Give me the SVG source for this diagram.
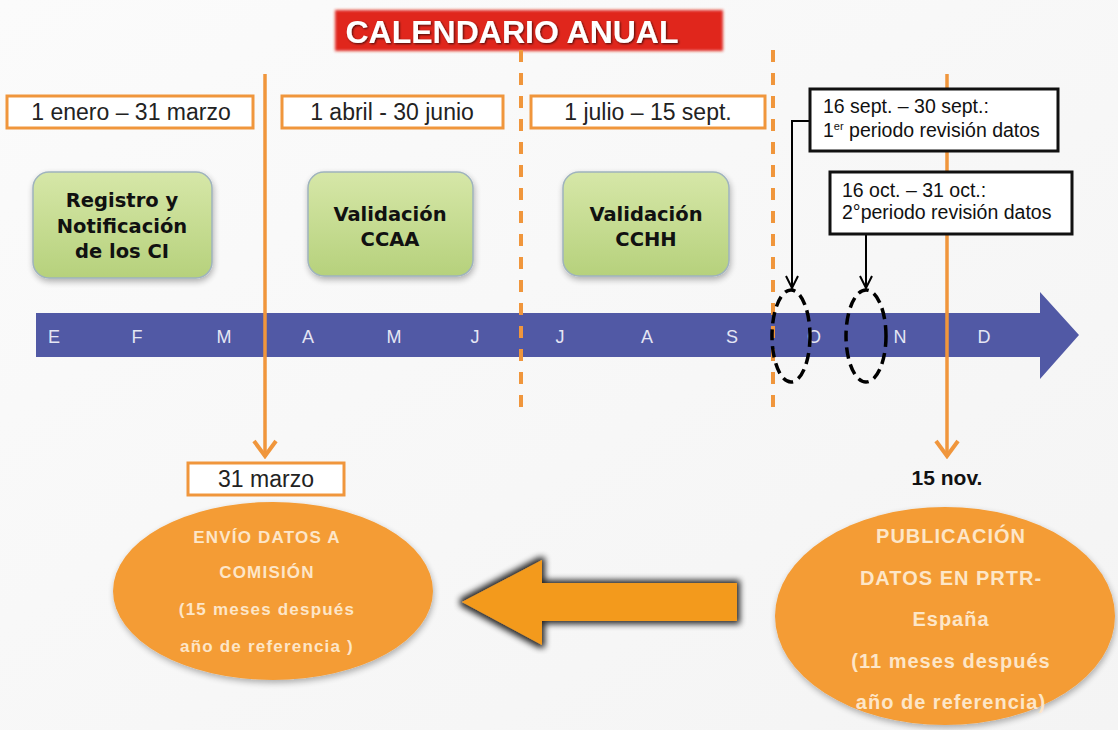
<svg xmlns="http://www.w3.org/2000/svg" width="1118" height="730" viewBox="0 0 1118 730">
<defs>
<style>
.lbl{fill:#fff;stroke:#f0963c;stroke-width:3}
.lt{font-family:"Liberation Sans",Arial,sans-serif;font-size:23px;fill:#222;text-anchor:middle}
.gb{stroke:#9fb3bd;stroke-width:1.5;filter:url(#sh)}
.gt{font-family:"DejaVu Sans",Verdana,sans-serif;font-weight:bold;font-size:19.5px;fill:#111;text-anchor:middle}
.bx{fill:#fff;stroke:#111;stroke-width:3}
.bt{font-family:"Liberation Sans",Arial,sans-serif;font-size:19.5px;fill:#111}
.mo{font-family:"Liberation Sans",Arial,sans-serif;font-size:18px;fill:#e4e6f4;text-anchor:middle}
.ol{stroke:#f0963c;stroke-width:3.5;fill:none}
.od{stroke:#f0963c;stroke-width:4;fill:none;stroke-dasharray:12 11}
.dash{fill:none;stroke:#000;stroke-width:3.5;stroke-dasharray:11 6}
.et{font-family:"Liberation Sans",Arial,sans-serif;font-weight:bold;fill:#fde6c8;text-anchor:middle}
</style>
<linearGradient id="gg" x1="0" y1="0" x2="0" y2="1">
<stop offset="0" stop-color="#d6e7a8"/>
<stop offset="1" stop-color="#b6d17c"/>
</linearGradient>
<linearGradient id="bg" x1="0" y1="0" x2="1" y2="1">
<stop offset="0" stop-color="#fbfbfb"/>
<stop offset="1" stop-color="#f4f4f4"/>
</linearGradient>
<filter id="sh" x="-20%" y="-20%" width="140%" height="140%">
<feGaussianBlur in="SourceAlpha" stdDeviation="3"/>
<feOffset dx="1" dy="3" result="b"/>
<feComponentTransfer><feFuncA type="linear" slope="0.3"/></feComponentTransfer>
<feMerge><feMergeNode/><feMergeNode in="SourceGraphic"/></feMerge>
</filter>
<filter id="glow" x="-20%" y="-30%" width="140%" height="160%">
<feMorphology in="SourceAlpha" operator="dilate" radius="3"/>
<feGaussianBlur stdDeviation="3"/>
<feComponentTransfer><feFuncA type="linear" slope="0.85"/></feComponentTransfer>
<feMerge><feMergeNode/><feMergeNode in="SourceGraphic"/></feMerge>
</filter>
<filter id="soft" x="-5%" y="-20%" width="110%" height="140%">
<feGaussianBlur stdDeviation="1.5"/>
</filter>
<filter id="tsh" x="-5%" y="-20%" width="110%" height="140%">
<feGaussianBlur in="SourceAlpha" stdDeviation="1.2"/>
<feOffset dx="1" dy="1"/>
<feComponentTransfer><feFuncA type="linear" slope="0.7"/></feComponentTransfer>
<feMerge><feMergeNode/><feMergeNode in="SourceGraphic"/></feMerge>
</filter>
<marker id="ah" viewBox="0 0 14 14" refX="13" refY="7" markerWidth="14" markerHeight="14" markerUnits="userSpaceOnUse" orient="auto">
<path d="M1,1 L13,7 L1,13" fill="none" stroke="#000" stroke-width="2"/>
</marker>
<marker id="oh" viewBox="0 0 20 26" refX="18" refY="13" markerWidth="20" markerHeight="26" markerUnits="userSpaceOnUse" orient="auto">
<path d="M2,2 L17,13 L2,24" fill="none" stroke="#f0963c" stroke-width="4"/>
</marker>
</defs>
<rect width="1118" height="730" fill="url(#bg)"/>

<g id="title">
<rect x="335" y="10" width="388" height="41" fill="#e0271d" filter="url(#soft)"/>
<text x="512" y="43" font-family="Liberation Sans,Arial,sans-serif" font-weight="bold" font-size="32" fill="#fff" text-anchor="middle" filter="url(#tsh)">CALENDARIO ANUAL</text>
</g>

<g id="period1">
<rect class="lbl" x="7" y="96" width="246" height="32"/>
<text class="lt" x="131" y="120">1 enero – 31 marzo</text>
</g>
<g id="period2">
<rect class="lbl" x="282" y="96" width="221" height="32"/>
<text class="lt" x="392" y="120">1 abril - 30 junio</text>
</g>
<g id="period3">
<rect class="lbl" x="531" y="96" width="234" height="32"/>
<text class="lt" x="648" y="120">1 julio – 15 sept.</text>
</g>

<g id="registro">
<rect class="gb" x="33" y="172" width="179" height="106" rx="16" fill="url(#gg)"/>
<text class="gt" x="122" y="207">Registro y</text>
<text class="gt" x="122" y="233">Notificación</text>
<text class="gt" x="122" y="258">de los CI</text>
</g>
<g id="validacion-ccaa">
<rect class="gb" x="308" y="172" width="165" height="104" rx="16" fill="url(#gg)"/>
<text class="gt" x="390" y="221">Validación</text>
<text class="gt" x="390" y="246">CCAA</text>
</g>
<g id="validacion-cchh">
<rect class="gb" x="563" y="172" width="166" height="104" rx="16" fill="url(#gg)"/>
<text class="gt" x="646" y="221">Validación</text>
<text class="gt" x="646" y="246">CCHH</text>
</g>

<g id="timeline">
<polygon points="36,313 1040,313 1040,292 1079,335 1040,379 1040,357 36,357" fill="#5159a5"/>
<text class="mo" x="54" y="343">E</text>
<text class="mo" x="137" y="343">F</text>
<text class="mo" x="224" y="343">M</text>
<text class="mo" x="308" y="343">A</text>
<text class="mo" x="394" y="343">M</text>
<text class="mo" x="475" y="343">J</text>
<text class="mo" x="560" y="343">J</text>
<text class="mo" x="647" y="343">A</text>
<text class="mo" x="732" y="343">S</text>
<text class="mo" x="814" y="343">O</text>
<text class="mo" x="900" y="343">N</text>
<text class="mo" x="984" y="343">D</text>
</g>

<g id="connectors">
<line class="ol" x1="265" y1="74" x2="265" y2="457" marker-end="url(#oh)"/>
<line class="ol" x1="947" y1="74" x2="947" y2="457" marker-end="url(#oh)"/>
<line class="od" x1="521" y1="50" x2="521" y2="411"/>
<line class="od" x1="773" y1="50" x2="773" y2="411"/>
<polyline points="810,121 792,121 792,288" fill="none" stroke="#000" stroke-width="2" marker-end="url(#ah)"/>
<line x1="866" y1="234" x2="866" y2="288" stroke="#000" stroke-width="2" marker-end="url(#ah)"/>
</g>

<g id="ring1"><ellipse class="dash" cx="791" cy="336" rx="19" ry="46"/></g>
<g id="ring2"><ellipse class="dash" cx="866" cy="336" rx="20" ry="46"/></g>

<g id="review1">
<rect class="bx" x="810" y="89" width="248" height="62"/>
<text class="bt" x="823" y="113">16 sept. – 30 sept.:</text>
<text class="bt" x="823" y="137">1<tspan font-size="11" dy="-7">er</tspan><tspan dy="7"> periodo revisión datos</tspan></text>
</g>
<g id="review2">
<rect class="bx" x="830" y="172" width="242" height="62"/>
<text class="bt" x="842" y="197">16 oct. – 31 oct.:</text>
<text class="bt" x="842" y="219">2°periodo revisión datos</text>
</g>

<g id="marzo">
<rect class="lbl" x="188" y="463" width="156" height="32"/>
<text class="lt" x="266" y="487">31 marzo</text>
</g>
<g id="nov">
<text x="947" y="485" font-family="Liberation Sans,Arial,sans-serif" font-weight="bold" font-size="21" fill="#111" text-anchor="middle">15 nov.</text>
</g>

<g id="envio">
<ellipse cx="273" cy="591" rx="160" ry="89" fill="#f49c36" filter="url(#sh)"/>
<text class="et" x="267" y="543" font-size="17" letter-spacing="1.2">ENVÍO DATOS A</text>
<text class="et" x="267" y="578" font-size="17" letter-spacing="1.2">COMISIÓN</text>
<text class="et" x="267" y="615" font-size="17" letter-spacing="1.2">(15 meses después</text>
<text class="et" x="267" y="652" font-size="17" letter-spacing="1.2">año de referencia )</text>
</g>

<g id="publicacion">
<ellipse cx="945" cy="616" rx="170" ry="109" fill="#f49c36" filter="url(#sh)"/>
<text class="et" x="951" y="543" font-size="20" letter-spacing="1">PUBLICACIÓN</text>
<text class="et" x="951" y="585" font-size="20" letter-spacing="1">DATOS EN PRTR-</text>
<text class="et" x="951" y="626" font-size="20" letter-spacing="1">España</text>
<text class="et" x="951" y="668" font-size="20" letter-spacing="1">(11 meses después</text>
<text class="et" x="951" y="709" font-size="20" letter-spacing="1">año de referencia)</text>
</g>

<g id="big-arrow">
<polygon points="462,602 542,560 542,583 737,583 737,621 542,621 542,645" fill="#f39a1e" filter="url(#glow)"/>
</g>
</svg>
